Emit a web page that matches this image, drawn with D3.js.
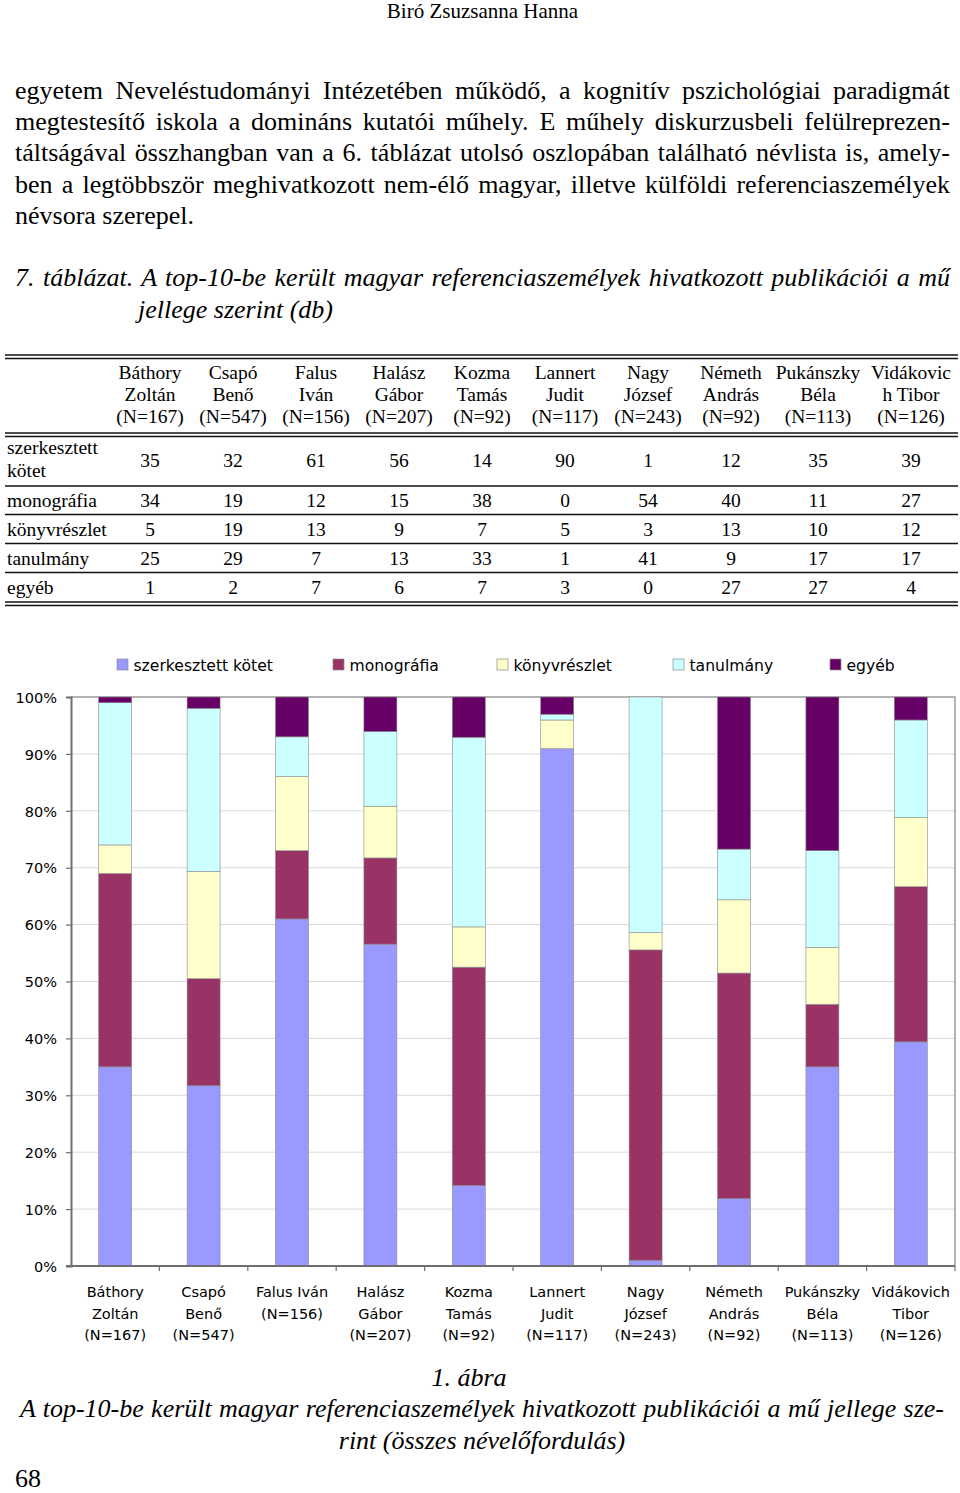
<!DOCTYPE html>
<html><head><meta charset="utf-8">
<script src="https://cdn.jsdelivr.net/npm/d3@7"></script>
<style>body{margin:0;background:#fff} svg{display:block}</style>
</head><body><svg id="page" width="960" height="1493"></svg>
<script>
// ---------- data ----------
const seriesNames = ["szerkesztett kötet","monográfia","könyvrészlet","tanulmány","egyéb"];
const categories = ["Báthory Zoltán","Csapó Benő","Falus Iván","Halász Gábor","Kozma Tamás","Lannert Judit","Nagy József","Németh András","Pukánszky Béla","Vidákovich Tibor"];
const tableHeaders = [["Báthory","Zoltán","(N=167)"],["Csapó","Benő","(N=547)"],["Falus","Iván","(N=156)"],["Halász","Gábor","(N=207)"],["Kozma","Tamás","(N=92)"],["Lannert","Judit","(N=117)"],["Nagy","József","(N=243)"],["Németh","András","(N=92)"],["Pukánszky","Béla","(N=113)"],["Vidákovic","h Tibor","(N=126)"]];
const chartLabels = [["Báthory","Zoltán","(N=167)"],["Csapó","Benő","(N=547)"],["Falus Iván","(N=156)"],["Halász","Gábor","(N=207)"],["Kozma","Tamás","(N=92)"],["Lannert","Judit","(N=117)"],["Nagy","József","(N=243)"],["Németh","András","(N=92)"],["Pukánszky","Béla","(N=113)"],["Vidákovich","Tibor","(N=126)"]];
const rowLabels = [["szerkesztett","kötet"],["monográfia"],["könyvrészlet"],["tanulmány"],["egyéb"]];
const szerkesztett = [35,32,61,56,14,90,1,12,35,39];
const monografia   = [34,19,12,15,38,0,54,40,11,27];
const konyvreszlet = [5,19,13,9,7,5,3,13,10,12];
const tanulmany    = [25,29,7,13,33,1,41,9,17,17];
const egyeb        = [1,2,7,6,7,3,0,27,27,4];
const yTicks = [0,0.1,0.2,0.3,0.4,0.5,0.6,0.7,0.8,0.9,1];
const colors = ["#9999FF","#993366","#FFFFCC","#CCFFFF","#660066"];

const headerText = "Biró Zsuzsanna Hanna";
const paragraph = [
 "egyetem Neveléstudományi Intézetében működő, a kognitív pszichológiai paradigmát",
 "megtestesítő iskola a domináns kutatói műhely. E műhely diskurzusbeli felülreprezen-",
 "táltságával összhangban van a 6. táblázat utolsó oszlopában található névlista is, amely-",
 "ben a legtöbbször meghivatkozott nem-élő magyar, illetve külföldi referenciaszemélyek",
 "névsora szerepel."
];
const tableCaption = ["7. táblázat. A top-10-be került magyar referenciaszemélyek hivatkozott publikációi a mű","jellege szerint (db)"];
const figCaption = ["1. ábra","A top-10-be került magyar referenciaszemélyek hivatkozott publikációi a mű jellege sze-","rint (összes névelőfordulás)"];
const pageNumber = "68";

// ---------- page ----------
const svg = d3.select("#page");
const SERIF = "'Liberation Serif','Times New Roman',serif";
const SANS = "'DejaVu Sans',Verdana,sans-serif";

function serifText(str, x, y, opts={}) {
  const t = svg.append("text").attr("x", x).attr("y", y)
    .attr("font-family", SERIF).attr("font-size", opts.size || 26)
    .attr("fill", "#000").text(str);
  if (opts.italic) t.attr("font-style", "italic");
  if (opts.anchor) t.attr("text-anchor", opts.anchor);
  if (opts.justify) {
    const w = t.node().getComputedTextLength();
    const n = (str.match(/ /g) || []).length;
    if (n > 0 && w < opts.justify) t.attr("word-spacing", (opts.justify - w) / n);
    else if (w > opts.justify) t.attr("textLength", opts.justify).attr("lengthAdjust","spacingAndGlyphs");
  }
  return t;
}

serifText(headerText, 482.5, 18, {size:21, anchor:"middle"});
const pBase = [98.5,130,161.3,192.7,224];
paragraph.forEach((l,i)=>serifText(l, 15, pBase[i], i<4 ? {justify:935} : {}));
serifText(tableCaption[0], 15, 286, {italic:true, justify:935});
serifText(tableCaption[1], 138, 317.5, {italic:true});

// ---------- table ----------
const colX = [150,233,316,399,482,565,648,731,818,911];
const TS = 19.5;
const hBase = [379,401,423];
tableHeaders.forEach((h,i)=>h.forEach((s,j)=>serifText(s, colX[i], hBase[j], {size:TS, anchor:"middle"})));
const rowSeries = [szerkesztett, monografia, konyvreszlet, tanulmany, egyeb];
const rowBase = [467,507,536,565,594];
rowLabels.forEach((r,i)=>{
  if (r.length===2) { serifText(r[0],7,454,{size:TS}); serifText(r[1],7,477,{size:TS}); }
  else serifText(r[0],7,rowBase[i],{size:TS});
  rowSeries[i].forEach((v,k)=>serifText(String(v), colX[k], rowBase[i], {size:TS, anchor:"middle"}));
});
const hLines = [[355,1.3],[358.5,1.3],[433,1.3],[436.5,1.3],[486,1.5],[514.5,1.5],[543.5,1.5],[572.5,1.5],[602,1.3],[605.5,1.3]];
svg.append("g").selectAll("line").data(hLines).join("line")
  .attr("x1",5).attr("x2",958).attr("y1",d=>d[0]).attr("y2",d=>d[0])
  .attr("stroke","#111").attr("stroke-width",d=>d[1]);

// ---------- chart ----------
const L=71, R=955, T=697, B=1266;
const x = d3.scaleBand().domain(categories).range([L,R]).paddingInner(0.627).paddingOuter(0.3135);
const xb = d3.scaleBand().domain(categories).range([L,R]).padding(0);
const y = d3.scaleLinear().domain([0,1]).range([B,T]);

const g = svg.append("g");
g.append("g").selectAll("line").data(yTicks.slice(1,-1)).join("line")
  .attr("x1",L).attr("x2",R).attr("y1",d=>y(d)).attr("y2",d=>y(d))
  .attr("stroke","#d9d9d9").attr("stroke-width",1);
g.append("path").attr("d",`M${L},${T}H${R}V${B}`).attr("fill","none").attr("stroke","#9a9a9a").attr("stroke-width",1.5);

const rows = categories.map((c,i)=>({cat:c, s0:szerkesztett[i], s1:monografia[i], s2:konyvreszlet[i], s3:tanulmany[i], s4:egyeb[i]}));
const stack = d3.stack().keys(["s0","s1","s2","s3","s4"]).offset(d3.stackOffsetExpand);
const stacked = stack(rows);
g.append("g").selectAll("g").data(stacked).join("g")
  .attr("fill",(d,i)=>colors[i])
  .selectAll("rect").data(d=>d.filter(p=>p[1]-p[0]>0)).join("rect")
  .attr("x",d=>x(d.data.cat)).attr("width",x.bandwidth())
  .attr("y",d=>y(d[1])).attr("height",d=>y(d[0])-y(d[1]))
  .attr("stroke","#8a8a8a").attr("stroke-width",0.6);

const yAxis = d3.axisLeft(y).tickValues(yTicks).tickFormat(d3.format(".0%")).tickSize(5).tickPadding(9);
const ya = g.append("g").attr("transform",`translate(${L},0)`).call(yAxis);
ya.select(".domain").attr("stroke","#6e6e6e").attr("stroke-width",2);
ya.selectAll(".tick line").attr("stroke","#6e6e6e").attr("stroke-width",1.2);
ya.selectAll(".tick text").attr("font-family",SANS).attr("font-size",14.5).attr("fill","#000").attr("dy","0.36em");

const xa = g.append("g").attr("transform",`translate(0,${B})`);
xa.append("line").attr("x1",L-5).attr("x2",R).attr("y1",0).attr("y2",0).attr("stroke","#6e6e6e").attr("stroke-width",2);
xa.selectAll("line.tk").data(categories.slice(1).concat(["__end"])).join("line").attr("class","tk")
  .attr("x1",d=>d==="__end"?R:xb(d)).attr("x2",d=>d==="__end"?R:xb(d)).attr("y1",0).attr("y2",5)
  .attr("stroke","#6e6e6e").attr("stroke-width",1.2);
const lblBase = [1297,1318.5,1340];
xa.selectAll("text.cl").data(categories).join("text").attr("class","cl")
  .attr("font-family",SANS).attr("font-size",14.5).attr("text-anchor","middle").attr("fill","#000")
  .each(function(d,i){
    const t=d3.select(this);
    chartLabels[i].forEach((s,j)=>t.append("tspan").attr("x",xb(d)+xb.bandwidth()/2).attr("y",lblBase[j]-B).text(s));
  });

const legX = [117,333,497,673,830];
const lg = g.append("g").selectAll("g").data(seriesNames).join("g")
  .attr("transform",(d,i)=>`translate(${legX[i]},659)`);
lg.append("rect").attr("width",11).attr("height",11).attr("fill",(d,i)=>colors[i]).attr("stroke","#8a8a8a").attr("stroke-width",0.7);
lg.append("text").attr("x",16.5).attr("y",11.5).attr("font-family",SANS).attr("font-size",15.6).attr("fill","#000").text(d=>d);

serifText(figCaption[0], 469, 1386, {italic:true, anchor:"middle"});
serifText(figCaption[1], 20, 1417, {italic:true, justify:924});
serifText(figCaption[2], 482, 1449, {italic:true, anchor:"middle"});
serifText(pageNumber, 15, 1487);
</script></body></html>
